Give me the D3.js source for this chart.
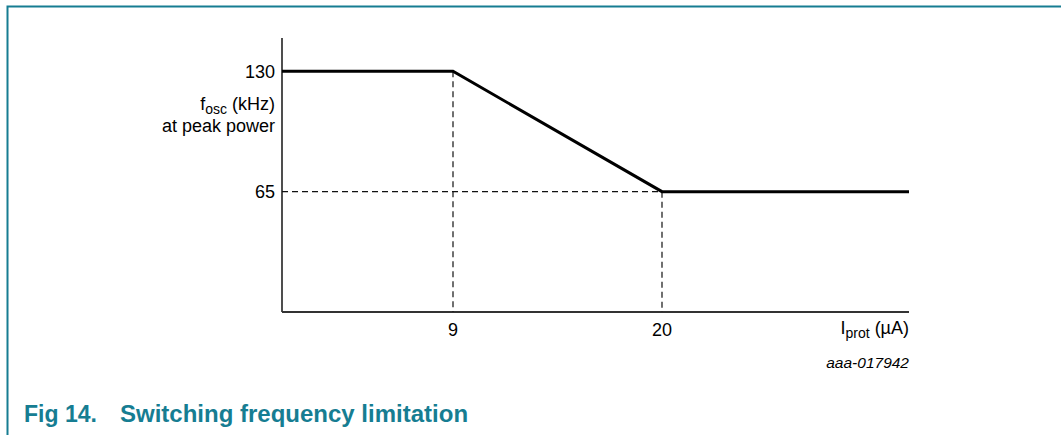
<!DOCTYPE html>
<html>
<head>
<meta charset="utf-8">
<script src="https://cdn.jsdelivr.net/npm/d3@7"></script>
<style>
  body { margin: 0; background: #fff; }
  svg { display: block; }
  text { font-family: "Liberation Sans", Arial, sans-serif; }
</style>
</head>
<body>
<svg id="chart"></svg>
<script>
// curve data
var currents = [0, 9, 20, 33];
var freqs = [130, 130, 65, 65];
// marked points
var xTicks = [9, 20];
var yTicks = [65, 130];

var W = 1061, H = 435;
var svg = d3.select("#chart").attr("width", W).attr("height", H);

// frame round the figure
svg.append("path")
  .attr("d", "M7.5," + H + " V6.5 H" + W)
  .attr("fill", "none")
  .attr("stroke", "#167d92")
  .attr("stroke-width", 2);

var xScale = d3.scaleLinear().domain([0, 33]).range([282, 909]);
var yScale = d3.scaleLinear().domain([0, 148]).range([312, 38]);

// axes
svg.append("line")
  .attr("x1", xScale(0)).attr("x2", xScale(0))
  .attr("y1", yScale(148)).attr("y2", yScale(0))
  .attr("stroke", "#222").attr("stroke-width", 1.6);
svg.append("line")
  .attr("x1", xScale(0)).attr("x2", xScale(33))
  .attr("y1", yScale(0)).attr("y2", yScale(0))
  .attr("stroke", "#333").attr("stroke-width", 2);

// dashed guides
svg.selectAll(".vguide")
  .data(xTicks)
  .enter()
  .append("line")
  .attr("x1", function(d){ return xScale(d) })
  .attr("x2", function(d){ return xScale(d) })
  .attr("y1", function(d, i){ return yScale(freqs[i + 1]) })
  .attr("y2", yScale(0))
  .attr("stroke", "#111")
  .attr("stroke-width", 1.2)
  .attr("stroke-dasharray", "6,4");

svg.append("line")
  .attr("x1", xScale(0)).attr("x2", xScale(20))
  .attr("y1", yScale(65)).attr("y2", yScale(65))
  .attr("stroke", "#111")
  .attr("stroke-width", 1.2)
  .attr("stroke-dasharray", "6,4");

// the curve
var lineGenerator = d3.line()
  .x(function(d, i){ return xScale(currents[i]) })
  .y(function(d){ return yScale(d) });

svg.append("path")
  .datum(freqs)
  .attr("d", lineGenerator)
  .attr("fill", "none")
  .attr("stroke", "#000")
  .attr("stroke-width", 3)
  .attr("stroke-linejoin", "miter");

// tick labels
svg.selectAll(".xt")
  .data(xTicks)
  .enter()
  .append("text")
  .attr("x", function(d){ return xScale(d) })
  .attr("y", 336)
  .attr("text-anchor", "middle")
  .attr("font-size", 18)
  .text(function(d){ return d });

svg.selectAll(".yt")
  .data(yTicks)
  .enter()
  .append("text")
  .attr("x", 275)
  .attr("y", function(d){ return yScale(d) + 6.5 })
  .attr("text-anchor", "end")
  .attr("font-size", 18)
  .text(function(d){ return d });

// axis titles
var yTitle = svg.append("text")
  .attr("x", 275).attr("y", 110)
  .attr("text-anchor", "end")
  .attr("font-size", 18);
yTitle.append("tspan").text("f");
yTitle.append("tspan").attr("dy", 4).attr("font-size", 14).text("osc");
yTitle.append("tspan").attr("dy", -4).text(" (kHz)");

svg.append("text")
  .attr("x", 275).attr("y", 132)
  .attr("text-anchor", "end")
  .attr("font-size", 18)
  .text("at peak power");

var xTitle = svg.append("text")
  .attr("x", 909).attr("y", 334)
  .attr("text-anchor", "end")
  .attr("font-size", 18);
xTitle.append("tspan").text("I");
xTitle.append("tspan").attr("dy", 4).attr("font-size", 14).text("prot");
xTitle.append("tspan").attr("dy", -4).text(" (\u00b5A)");

svg.append("text")
  .attr("x", 909).attr("y", 368)
  .attr("text-anchor", "end")
  .attr("font-size", 15.5)
  .attr("font-style", "italic")
  .text("aaa-017942");

// caption
svg.append("text")
  .attr("x", 24).attr("y", 422)
  .attr("font-size", 23)
  .attr("font-weight", "bold")
  .attr("fill", "#167d92")
  .text("Fig 14.");
svg.append("text")
  .attr("x", 120).attr("y", 422)
  .attr("font-size", 24)
  .attr("font-weight", "bold")
  .attr("fill", "#167d92")
  .text("Switching frequency limitation");
</script>
</body>
</html>
